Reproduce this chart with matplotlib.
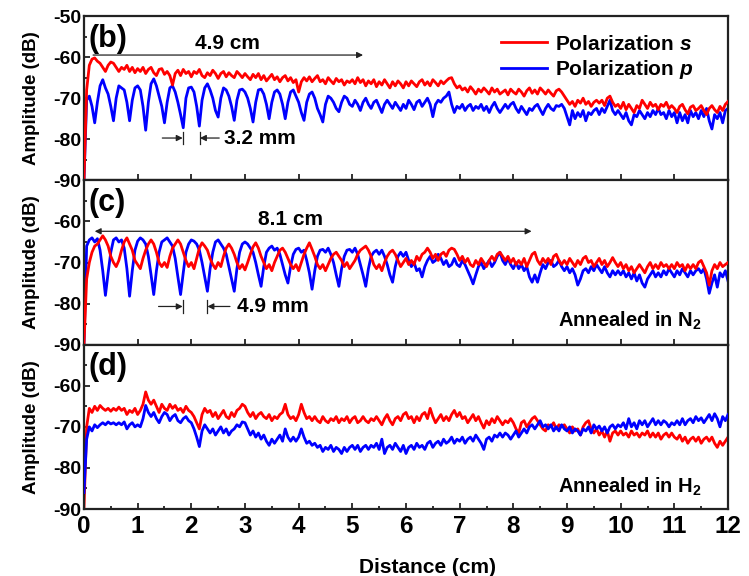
import numpy as np
import matplotlib
matplotlib.use("Agg")
import matplotlib.pyplot as plt
from matplotlib.ticker import MultipleLocator

plt.rcParams['font.family'] = ['Liberation Sans', 'DejaVu Sans']
plt.rcParams['font.weight'] = 'bold'
plt.rcParams['mathtext.fontset'] = 'custom'
plt.rcParams['mathtext.rm'] = 'Liberation Sans:bold'
plt.rcParams['mathtext.bf'] = 'Liberation Sans:bold'
plt.rcParams['mathtext.it'] = 'Liberation Sans:bold:italic'
plt.rcParams['axes.unicode_minus'] = False

# sampling grid along the fibre (cm), 0.05 cm step
distance = np.linspace(0.0, 12.0, 241)

# ---- (b) as deposited ----
b_s = [
    -90, -68, -62, -60.5, -60.2, -61, -61.5, -62.5, -63.5, -62, -61.2, -61.5, -62.5, -63.5, -62.5, -63, -62, -63.5, -62.5, -63.8,
    -62.8, -63.5, -62.5, -64, -63, -62.5, -63.8, -64.5, -63, -62.8, -64.2, -63.5, -64.5, -66.8, -64, -63.2, -64.5, -63, -64, -63.5,
    -64.8, -63.5, -64, -63, -64.5, -65, -63.8, -64.5, -63.2, -64, -65.2, -64, -63.5, -64.8, -63.8, -64.5, -65, -63.5, -64.2, -65,
    -64, -64.8, -65.5, -64.2, -65, -64, -65.5, -64.5, -65.8, -65, -64.2, -65.5, -64.8, -66, -65, -64.5, -65.8, -65, -66.2, -65.5,
    -68.5, -66, -65, -65.8, -64.8, -66, -65.2, -64.5, -66, -65.5, -66.5, -65, -65.8, -66.5, -65.2, -66, -65.5, -66.8, -65.8, -66.2,
    -65.5, -66.5, -65, -66.2, -65.5, -67, -65.8, -66.5, -65.5, -67.2, -66, -66.8, -65.5, -66.5, -67.5, -66, -67, -65.8, -66.5, -67.5,
    -66, -67, -65.8, -66.5, -67.2, -66, -65.5, -66.8, -66, -67, -65.5, -66.2, -67, -65.8, -66.5, -65.8, -65.2, -65, -66.5, -67.5,
    -67, -68, -67.5, -68.5, -67.2, -68, -69, -67.8, -68.5, -67.5, -68.2, -69, -67.5, -68.5, -67.8, -69, -68.5, -68, -69.2, -67.8,
    -68.5, -69, -67.8, -68.5, -69.5, -68.2, -67.5, -68.8, -68, -69, -67.5, -68.2, -69, -68, -68.8, -69.5, -68.2, -67.8, -68.5, -69.5,
    -70.5, -71.5, -70.8, -72, -70.5, -71.2, -70, -71.5, -70.8, -72, -71, -70.5, -71.2, -70.5, -71.8, -70, -69.5, -71, -72, -71.5,
    -72.5, -71, -72.8, -71.5, -72.5, -73.5, -71.8, -72.5, -70.5, -71.5, -72.5, -71, -72, -71.5, -72.8, -71.5, -72, -71, -72.5, -71.8,
    -72.5, -73.5, -72, -71.5, -72.8, -73.8, -72.2, -71.8, -73, -72.5, -71.8, -73, -74, -72.5, -71.8, -72.8, -73.5, -72, -73, -71.5,
    -70.8,
]
b_p = [
    -90, -70.5, -69.5, -72, -76, -71, -67, -65.5, -67.5, -69, -72, -75.5, -70, -67, -67.5, -68, -71, -75.5, -70.5, -67.5,
    -67, -68, -72, -77.8, -71, -66.5, -65.3, -67, -69.5, -72, -76, -71, -67.5, -67, -68.5, -71, -74, -77.2, -70, -67.5,
    -67.3, -68.5, -72, -76.8, -70.5, -67.5, -66.5, -68, -70, -73, -74.6, -70, -67.5, -68, -69.5, -72, -75.4, -70.5, -68, -67.8,
    -68.5, -70, -72.5, -75.8, -71, -68, -67.8, -69, -71.5, -75, -71, -68.5, -68, -69, -71.5, -75, -71, -68.5, -68, -69.5,
    -71, -73.5, -75.4, -71, -69, -68.5, -70, -72.5, -74, -75.8, -71.5, -69.5, -70, -71, -72.5, -73.3, -71, -69.5, -70, -71.5,
    -72, -70.5, -71.5, -73, -71, -70, -71.5, -72.5, -71, -70.5, -72, -73.5, -71.5, -70.5, -71.5, -72.5, -71, -72, -73, -71.5,
    -72.5, -70.5, -71.5, -72.8, -71, -70.5, -72, -71, -70, -71.5, -74.5, -71.5, -70.5, -71, -70, -69.5, -68.5, -71.5, -73.5, -72,
    -72.5, -71.5, -73, -72, -71.5, -73, -72, -72.5, -71.5, -73, -72, -73.5, -72, -71, -72.5, -73.5, -72.5, -71.5, -72.5, -71.5,
    -71, -72.5, -73.5, -72, -73, -74, -72.5, -73, -72, -71.5, -72.8, -74, -72.5, -71.5, -72.5, -73, -71.8, -72, -71.5, -72.5,
    -74.5, -76.5, -73, -75, -73.5, -74.5, -73, -75.5, -73.5, -74, -73, -72.5, -74, -72.5, -73.5, -72, -70.5, -73, -74, -73,
    -74, -75, -73.5, -75.5, -76.5, -74, -74.5, -73, -74, -75, -73.5, -74.5, -73, -74, -72.5, -74, -73.5, -75, -73, -74.5,
    -73.5, -76, -73.5, -75.5, -74, -76, -73, -74.5, -73.5, -75, -73, -74.5, -72.5, -75.5, -77.5, -74, -75, -73.5, -76, -73,
    -72.5,
]

# ---- (c) annealed in N2 ----
c_s = [
    -90, -74, -70, -67.5, -66, -65.5, -64.5, -63.5, -64.5, -66, -68.5, -70, -71, -69.5, -67, -65, -64, -65.5, -67, -69.5,
    -70.5, -71.5, -69, -67, -65.5, -64.5, -65.5, -67.5, -70, -71, -70, -71.2, -68.5, -66.5, -65.5, -64.5, -65.5, -67.5, -69.5, -71,
    -70, -71.5, -69, -66.5, -65.2, -66, -67, -69, -70.5, -71.5, -70, -71, -68.5, -66.5, -65.5, -66.5, -68, -70, -71.5, -70.5,
    -71.8, -70, -68, -66.2, -65.2, -66.5, -68.5, -70, -71.5, -70.5, -72, -70, -68.5, -67, -66.5, -67.5, -69, -70.5, -71.5, -70.5,
    -72, -70, -68, -66.5, -65.2, -66.8, -68.5, -70.5, -71.5, -70.5, -72, -70.5, -69, -68, -67.5, -68.5, -69.5, -71, -70, -71.5,
    -70.5, -69.5, -68, -67, -66.5, -66, -67, -68.5, -70.5, -71.5, -70.5, -72, -70, -68.5, -67.5, -67, -68, -69.5, -71, -70,
    -69, -70.5, -69.5, -70.5, -68.5, -69.5, -68, -67.5, -66.5, -67.5, -69, -68, -69.5, -68, -67.5, -68.5, -67, -66.5, -66.8, -68,
    -69.5, -68.5, -70, -69, -70.5, -71, -69.5, -70.5, -69, -70, -71, -69.5, -68.5, -69.5, -68, -67.5, -68.5, -69.5, -68.5, -70,
    -69, -70.5, -69.5, -70.5, -69, -71, -69.5, -68, -67.5, -69.5, -70.5, -69, -70, -69, -70.5, -68.5, -68, -69.5, -70.5, -69.5,
    -70.5, -69, -70, -71, -69.5, -70.5, -69, -68.5, -70, -69.5, -71, -70, -69, -70.5, -69.5, -71, -70, -68.8, -70, -71,
    -70, -71.5, -70.5, -72, -71, -72.5, -71.5, -70.5, -71.5, -72.5, -71, -70, -71.5, -70.5, -71.5, -70, -71, -70.5, -71.5, -70.5,
    -71.5, -70, -71, -70.5, -72, -70.5, -71.5, -70.5, -71.5, -70, -69.5, -71, -72.5, -75.5, -72, -70.5, -71.5, -70, -71, -70.5,
    -70,
]
c_p = [
    -90, -66, -64.5, -64, -65, -64.2, -67, -72, -78, -72.5, -67.5, -64.5, -64, -65, -64.5, -66.5, -71.5, -78.2, -72, -67,
    -64.8, -64, -64.5, -65.5, -68.5, -73, -77.8, -72, -67.5, -65, -64.5, -64, -65, -66, -69, -73.5, -77.8, -72.5, -67.5, -65.5,
    -64.5, -64.8, -65.5, -67, -70, -73.5, -77, -71.5, -67.5, -65, -64.5, -65.5, -66.5, -68, -71, -74, -77, -71.5, -67.5, -65.5,
    -65, -65.5, -66.5, -67.5, -70, -73, -75.8, -71, -67.5, -66.5, -66, -67, -66.5, -68, -70.5, -73, -75, -71, -68, -66.8,
    -66.5, -67.5, -67, -69.5, -72.5, -76.5, -72, -68.5, -67, -66.8, -67.5, -66.5, -68, -70, -73, -75.8, -71.5, -68.5, -67, -66.8,
    -67.5, -66.5, -68, -70.5, -73, -75.8, -71.5, -68.5, -67.5, -67, -68, -67, -68.5, -70.5, -73, -74.8, -71, -68.5, -67.5, -68.5,
    -67.5, -69.5, -71, -70, -72, -71.5, -73.5, -71, -69.5, -68.5, -70, -69.5, -68, -69, -70.5, -69.5, -71, -70.5, -69, -70.5,
    -71, -69.5, -70.5, -72, -73.5, -75.2, -73, -71, -70, -71.5, -70.5, -69.5, -71, -70, -68.5, -67.5, -69.5, -70.5, -69, -70.5,
    -71.5, -70, -71.5, -70.5, -72, -71, -73.5, -74.8, -73, -74.8, -72.5, -70.5, -71.5, -70, -69.5, -71, -70.5, -69.5, -71, -72,
    -71, -72.5, -71.5, -73, -75.5, -74, -72, -71.5, -72.5, -71, -72, -70.5, -71.5, -72.5, -71, -72.5, -73.5, -72, -73, -72,
    -73, -72, -73.5, -72.5, -74, -72.5, -74.5, -73, -75, -76, -74, -73, -72, -73.5, -72.5, -73.5, -72, -73, -71.5, -72.5,
    -73.5, -72, -73, -71.5, -72.5, -73.5, -72, -73, -72, -71.5, -72.5, -71.5, -74, -77.5, -75, -73, -76, -72.5, -73.5, -72,
    -74.5,
]

# ---- (d) annealed in H2 ----
d_s = [
    -90, -70, -65.5, -66.5, -65, -66, -64.8, -65.5, -66, -65.5, -66.2, -65.5, -66, -65.2, -66, -65.5, -67, -66, -66.5, -65.5,
    -67, -66, -64.5, -61.5, -63.5, -64.5, -63.5, -65, -66.5, -64.5, -65.5, -66, -64.5, -65.5, -64.8, -66, -65.5, -66.5, -65, -66,
    -66.5, -67.5, -69, -70.5, -67, -65.5, -66.5, -66, -67.5, -66.5, -68, -67, -66, -67.5, -68, -66.5, -67.5, -66, -65.5, -64.5,
    -65, -66.5, -67.5, -66.5, -68, -67, -66.5, -67.5, -68, -67, -68.5, -67.5, -68, -67, -66.5, -64.5, -67, -68, -67.5, -68.5,
    -67, -64.5, -66.5, -68, -67.5, -68.5, -67.5, -68.5, -69, -67.5, -68.5, -69, -68, -68.5, -67.5, -69, -68, -68.5, -67.5, -69,
    -68, -67.5, -69, -68.5, -67.5, -68.5, -69, -68, -68.5, -67.5, -68.5, -69.5, -68, -67, -68.5, -69.5, -68, -67.5, -68.5, -67,
    -66.5, -68, -67.5, -69, -67.5, -68.5, -67, -66.5, -68, -65.5, -67.5, -69, -68, -67, -68.5, -67.5, -68.5, -67, -66, -67.5,
    -66.5, -68, -67.5, -69, -68, -67, -68.5, -67.5, -69, -70.3, -68.5, -69.5, -68, -69, -67.5, -68.5, -69.5, -68.5, -69, -68,
    -69, -70.5, -71.5, -69, -68.5, -70, -69, -68, -67.5, -68.5, -69.5, -70.5, -71, -69.5, -70, -69, -70.5, -69.5, -70, -69.5,
    -70.5, -71.5, -70, -71, -70.5, -72, -70, -69, -68.5, -70.5, -71.5, -70.5, -72, -71, -72.5, -71, -73.5, -71.5, -71, -72,
    -71, -72, -71.5, -72.5, -71, -72, -71.5, -72.5, -71.5, -72, -71, -72.5, -71.5, -72.5, -71.5, -73, -72, -71.5, -72.5, -71.5,
    -72.5, -73, -72, -73.5, -72.5, -74, -73, -72.5, -73.5, -72.5, -74, -73, -72.5, -73.5, -72.5, -74, -75, -73.5, -74.5, -73.5,
    -72.5,
]
d_p = [
    -86, -73, -70, -71, -69.5, -70.2, -69.5, -69, -69.5, -68.8, -69.3, -69, -69.5, -69, -69.5, -68.8, -70.5, -69.5, -69, -70,
    -69.5, -70, -68, -64.8, -66.5, -67.5, -66.5, -68, -69, -67.5, -66.5, -67, -68.5, -67.5, -67, -68.5, -69, -68, -67.5, -68.5,
    -69, -70.5, -72.5, -74.8, -71, -69.5, -70.5, -71.5, -70.5, -72, -71, -70, -71.5, -70.5, -72, -71, -70.5, -69.5, -70, -68.8,
    -69, -70.5, -72, -71, -72.5, -71.5, -73, -72, -73.5, -74.5, -73, -74, -73, -72, -73.5, -70.5, -72.5, -73.5, -72.5, -73.5,
    -72.5, -70.5, -72.5, -74, -73.5, -74.5, -74, -75, -74.5, -76, -75, -75.5, -74.5, -76, -75, -75.5, -76.5, -75, -76, -75,
    -74.5, -75.5, -74.5, -76, -75, -74.5, -75.5, -74.5, -75, -74, -75.5, -73, -76.5, -75, -74.5, -75.5, -74, -75, -76, -74.5,
    -76.5, -75, -74.5, -75.5, -74, -75, -74.5, -75.5, -74, -73.5, -75, -74, -73.5, -74.5, -73, -74, -73.5, -72.5, -74, -73,
    -73.5, -72.5, -74, -73, -72.5, -73.5, -72, -73, -74, -75.5, -73, -72.5, -73.5, -72, -72.5, -71.5, -72.5, -71.5, -72, -73,
    -72, -71, -72.5, -71.5, -70.5, -71.5, -70, -69.5, -70.5, -69.5, -68.5, -70, -69.5, -70.5, -69.5, -71, -70, -71, -69.5, -70.5,
    -71, -70, -71.5, -70.5, -71, -72, -70.5, -71, -70, -71.5, -69.5, -70.5, -69.8, -71, -70, -71.5, -70, -69.5, -70.5, -69.5,
    -70, -69, -70.5, -68, -70, -69, -70.5, -68.5, -69.5, -68.5, -70, -69, -68, -69.5, -68.5, -69.5, -68.5, -69, -70, -69,
    -69.5, -68.5, -69.5, -68, -69.5, -68.5, -68, -69, -67.5, -68.5, -67.8, -69, -68, -67, -68.5, -66.8, -68, -70, -67.5, -68.5,
    -67,
]

panels = [
    {"s": b_s, "p": b_p, "tag": "(b)", "yticks": [-90, -80, -70, -60, -50]},
    {"s": c_s, "p": c_p, "tag": "(c)", "yticks": [-90, -80, -70, -60]},
    {"s": d_s, "p": d_p, "tag": "(d)", "yticks": [-90, -80, -70, -60]},
]

RED = "#ff0000"
BLUE = "#0000ff"
INK = "#222222"

fig = plt.figure(figsize=(7.49, 5.76), dpi=100)
gs = fig.add_gridspec(3, 1, left=0.1121, right=0.972, top=0.9722, bottom=0.1163, hspace=0.0)
axes = [fig.add_subplot(gs[i]) for i in range(3)]

for i, (ax, pnl) in enumerate(zip(axes, panels)):
    ax.plot(distance, pnl["s"], color=RED, lw=2.0, label=r"Polarization $s$", zorder=3 if i != 2 else 2)
    ax.plot(distance, pnl["p"], color=BLUE, lw=2.0, label=r"Polarization $p$", zorder=2 if i != 2 else 3)
    ax.set_xlim(0, 12)
    ax.set_ylim(-90, -50)
    ax.set_yticks(pnl["yticks"])
    ax.yaxis.set_minor_locator(MultipleLocator(5))
    ax.xaxis.set_major_locator(MultipleLocator(1))
    if i == 2:
        ax.xaxis.set_minor_locator(MultipleLocator(0.5))
    ax.tick_params(axis="both", which="both", direction="in", top=False, right=False,
                   color=INK, width=1.3)
    ax.tick_params(axis="both", which="major", length=4)
    ax.tick_params(axis="both", which="minor", length=2.5)
    ax.tick_params(axis="y", labelsize=14, pad=2)
    ax.tick_params(axis="x", labelsize=17.5, pad=4)
    if i < 2:
        ax.tick_params(axis="x", labelbottom=False)
    for sp in ax.spines.values():
        sp.set_linewidth(1.6)
        sp.set_color(INK)
    ax.set_ylabel("Amplitude (dB)", fontsize=13.5, fontweight="bold")
    ax.yaxis.set_label_coords(-0.069, 0.5)
    ax.text(0.08, -55.5, pnl["tag"], fontsize=22, fontweight="bold", va="center", ha="left", zorder=5)

axes[2].set_xlabel("Distance (cm)", fontsize=15, fontweight="bold")
axes[2].xaxis.set_label_coords(0.533, -0.3)

# legend in the top panel
leg = axes[0].legend(loc="upper right", bbox_to_anchor=(0.975, 1.0), frameon=False,
                     fontsize=15, handlelength=2.2, handletextpad=0.4, labelspacing=0.2)
for t in leg.get_texts():
    t.set_fontweight("bold")

arrow_kw = dict(arrowstyle="-|>", color=INK, lw=0.9, mutation_scale=9, shrinkA=0, shrinkB=0)

# (b) 4.9 cm span and 3.2 mm period
span_b = (0.17, 5.2, -59.5)
axes[0].annotate("", xy=(span_b[1], span_b[2]), xytext=(span_b[0], span_b[2]), arrowprops=arrow_kw)
axes[0].text(2.67, -56.6, "4.9 cm", fontsize=15, fontweight="bold", ha="center", va="center")
per_b = (1.84, 2.16, -79.7)
axes[0].annotate("", xy=(per_b[0], per_b[2]), xytext=(per_b[0] - 0.38, per_b[2]), arrowprops=arrow_kw)
axes[0].annotate("", xy=(per_b[1], per_b[2]), xytext=(per_b[1] + 0.36, per_b[2]), arrowprops=arrow_kw)
for xb in per_b[:2]:
    axes[0].plot([xb, xb], [per_b[2] - 1.5, per_b[2] + 1.5], color=INK, lw=0.9)
axes[0].text(2.6, -79.7, "3.2 mm", fontsize=15, fontweight="bold", ha="left", va="center")

# (c) 8.1 cm span and 4.9 mm period
span_c = (0.2, 8.34, -62.4)
axes[1].annotate("", xy=(span_c[1], span_c[2]), xytext=(span_c[0], span_c[2]),
                 arrowprops=dict(arrow_kw, arrowstyle="<|-|>"))
axes[1].text(3.85, -59.5, "8.1 cm", fontsize=15, fontweight="bold", ha="center", va="center")
per_c = (1.84, 2.30, -80.7)
axes[1].annotate("", xy=(per_c[0], per_c[2]), xytext=(per_c[0] - 0.45, per_c[2]), arrowprops=arrow_kw)
axes[1].annotate("", xy=(per_c[1], per_c[2]), xytext=(per_c[1] + 0.42, per_c[2]), arrowprops=arrow_kw)
for xb in per_c[:2]:
    axes[1].plot([xb, xb], [per_c[2] - 1.5, per_c[2] + 1.5], color=INK, lw=0.9)
axes[1].text(2.86, -80.7, "4.9 mm", fontsize=15, fontweight="bold", ha="left", va="center")

axes[1].text(11.5, -84.3, r"Annealed in N$_2$", fontsize=14.5, fontweight="bold", ha="right", va="center")
axes[2].text(11.5, -84.6, r"Annealed in H$_2$", fontsize=14.5, fontweight="bold", ha="right", va="center")

fig.savefig("out.png", dpi=100)
